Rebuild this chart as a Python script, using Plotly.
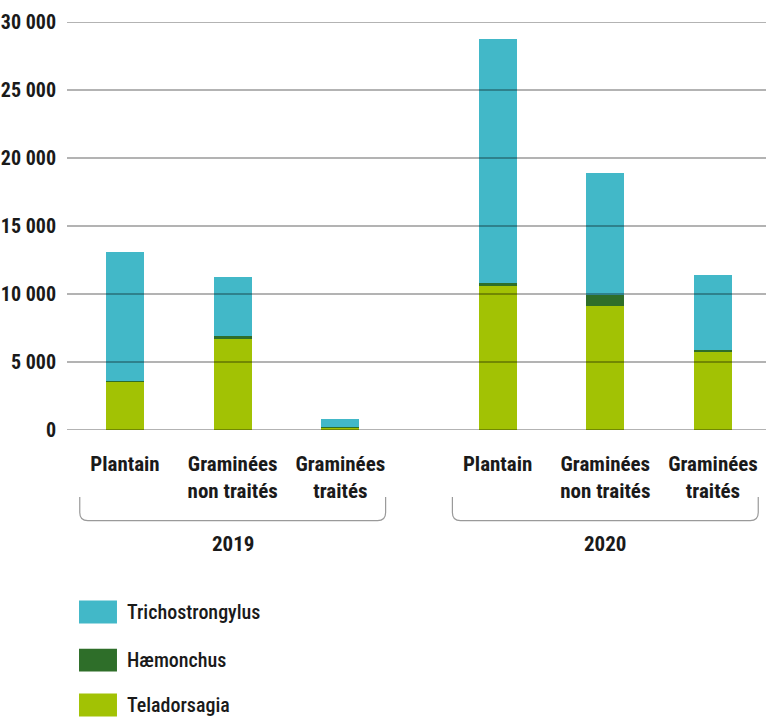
import plotly.graph_objects as go

# ---- data ----
years = ["2019", "2020"]
categories = ["Plantain", "Graminées<br>non traités", "Graminées<br>traités"]
series_names = ["Teladorsagia", "Hæmonchus", "Trichostrongylus"]
teladorsagia = [3600, 6700, 220, 10650, 9150, 5750]
haemonchus = [30, 200, 30, 130, 780, 130]
trichostrongylus = [9450, 4350, 550, 17970, 8970, 5520]
colors = ["#A2C204", "#2E6E29", "#42B8C8"]
y_tickvals = [0, 5000, 10000, 15000, 20000, 25000, 30000]
y_ticktext = ["0", "5 000", "10 000", "15 000", "20 000", "25 000", "30 000"]

FONT = "Noto Sans ExtraCondensed, Noto Sans Condensed, Roboto Condensed, DejaVu Sans Condensed, sans-serif"

def fnt(size, weight="normal"):
    return dict(family=FONT, size=size, color="#1a1a1a", weight=weight)

# x positions: groups of three with an extra gap between years
group_gap = 1.46
xpos = []
for g in range(len(years)):
    for i in range(len(categories)):
        xpos.append(g * (len(categories) - 1 + group_gap) + i)
xlabels = categories * len(years)

fig = go.Figure()
for name, vals, col in zip(series_names, [teladorsagia, haemonchus, trichostrongylus], colors):
    fig.add_trace(go.Bar(x=xpos, y=vals, name=name, marker=dict(color=col, line=dict(width=0)),
                         width=0.352, showlegend=False))

# gridlines drawn above bars (semi-transparent)
for v in y_tickvals:
    fig.add_shape(type="line", xref="paper", yref="y", x0=0, x1=1, y0=v, y1=v,
                  line=dict(color="rgba(0,0,0,0.40)", width=1.5), layer="above")

# brackets + year labels
r_x, r_y = 0.075, 0.02
y_top, y_bot = -0.164, -0.222
for g, yr in enumerate(years):
    xs = xpos[g * 3:(g + 1) * 3]
    x0, x1 = xs[0] - 0.42, xs[-1] + 0.42
    path = (f"M {x0} {y_top} L {x0} {y_bot + r_y} Q {x0} {y_bot} {x0 + r_x} {y_bot} "
            f"L {x1 - r_x} {y_bot} Q {x1} {y_bot} {x1} {y_bot + r_y} L {x1} {y_top}")
    fig.add_shape(type="path", xref="x", yref="paper", path=path,
                  line=dict(color="#9a9a9a", width=1.2))
    fig.add_annotation(x=sum(xs) / len(xs), y=-0.279, xref="x", yref="paper",
                       text=yr, showarrow=False, font=fnt(21, "bold"),
                       xanchor="center", yanchor="middle")

# custom legend (top to bottom: Trichostrongylus, Hæmonchus, Teladorsagia)
leg_y = [-0.446, -0.564, -0.674]
for k, (name, col) in enumerate(zip(series_names[::-1], colors[::-1])):
    yc = leg_y[k]
    fig.add_shape(type="rect", xref="paper", yref="paper", x0=0.0172, x1=0.0715,
                  y0=yc - 0.028, y1=yc + 0.028, fillcolor=col, line=dict(width=0))
    fig.add_annotation(x=0.083, y=yc, xref="paper", yref="paper", text=name,
                       showarrow=False, xanchor="left", yanchor="middle",
                       font=fnt(20, 500))

fig.update_layout(
    width=766, height=718,
    margin=dict(l=67, r=0, t=22, b=288),
    paper_bgcolor="white", plot_bgcolor="white",
    barmode="stack", bargap=0,
    font=dict(family=FONT, color="#1a1a1a"),
)
fig.update_xaxes(range=[-0.5385, 5.952], tickvals=xpos, ticktext=xlabels,
                 tickfont=fnt(21, "bold"), tickangle=0, automargin=False,
                 showgrid=False, zeroline=False, showline=False, ticks="",
                 ticklabelstandoff=19)
fig.update_yaxes(range=[0, 30000], tickvals=y_tickvals, ticktext=y_ticktext,
                 tickfont=fnt(20, "bold"), automargin=False,
                 showgrid=False, zeroline=False, showline=False, ticks="",
                 ticklabelstandoff=10)

fig.write_html("out.html")
